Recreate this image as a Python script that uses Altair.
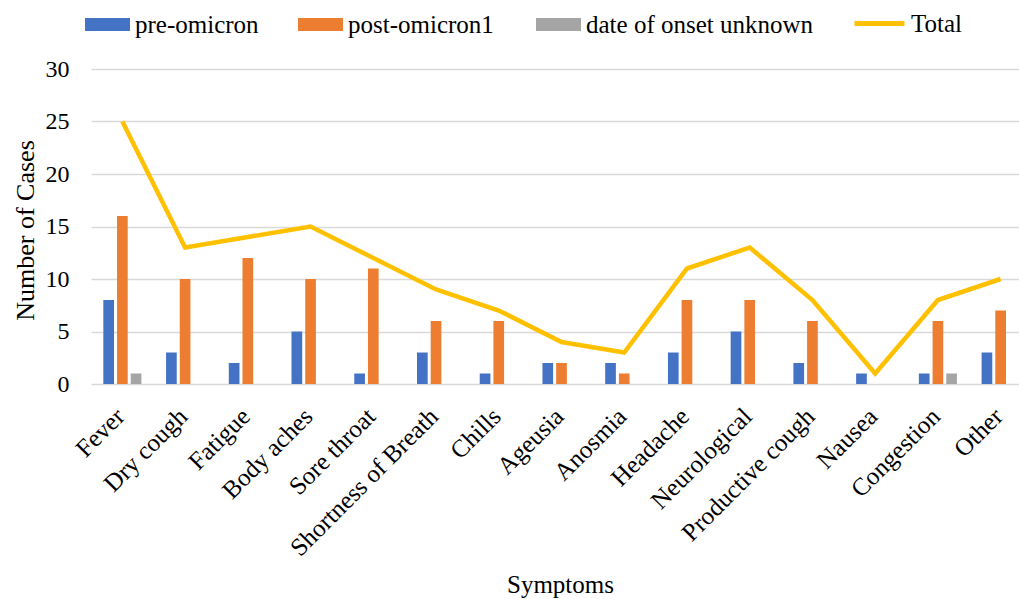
import altair as alt
import pandas as pd

# Symptom categories and case counts per period
symptoms = ["Fever", "Dry cough", "Fatigue", "Body aches", "Sore throat",
            "Shortness of Breath", "Chills", "Ageusia", "Anosmia", "Headache",
            "Neurological", "Productive cough", "Nausea", "Congestion", "Other"]
pre_omicron = [8, 3, 2, 5, 1, 3, 1, 2, 2, 3, 5, 2, 1, 1, 3]
post_omicron = [16, 10, 12, 10, 11, 6, 6, 2, 1, 8, 8, 6, 0, 6, 7]
onset_unknown = [1, 0, 0, 0, 0, 0, 0, 0, 0, 0, 0, 0, 0, 1, 0]
total = [25, 13, 14, 15, 12, 9, 7, 4, 3, 11, 13, 8, 1, 8, 10]

series_names = ["pre-omicron", "post-omicron1", "date of onset unknown"]
series_values = [pre_omicron, post_omicron, onset_unknown]
series_colors = ["#4472C4", "#ED7D31", "#A5A5A5"]
legend_x = [-6, 207, 445]

FONT = "Liberation Serif"
W, H = 928, 315

x_scale = alt.Scale(domain=symptoms, range=[0, 941], paddingInner=0, paddingOuter=0)
y_scale = alt.Scale(domain=[0, 30], nice=False)
offset_scale = alt.Scale(domain=series_names, paddingInner=0.22, paddingOuter=0.9)

x_axis = alt.Axis(title="Symptoms", labelAngle=-45, labelAlign="right",
                  labelBaseline="middle", labelPadding=28, labelOffset=-2,
                  labelFontSize=25, labelFont=FONT, labelColor="black",
                  labelLimit=0, ticks=False, domain=False, grid=False,
                  titleFont=FONT, titleFontSize=25, titleFontWeight="normal",
                  titleColor="black", titleX=469, titleY=208, titleAlign="center",
                  titleBaseline="alphabetic")
y_axis = alt.Axis(title="Number of Cases", values=[0, 5, 10, 15, 20, 25, 30],
                  labelFontSize=24, labelFont=FONT, labelColor="black",
                  labelPadding=22, ticks=False, domain=False, grid=True,
                  gridColor="#D9D9D9", gridWidth=1.3,
                  titleFont=FONT, titleFontSize=26, titleFontWeight="normal",
                  titleColor="black", titleAngle=-90, titleX=-58, titleY=161,
                  titleAlign="center", titleBaseline="alphabetic")


def series_bars(i):
    """One bar layer per series, each with its own one-entry legend."""
    df = pd.DataFrame({"Symptom": symptoms, "Cases": series_values[i],
                       "Series": series_names[i]})
    return alt.Chart(df).mark_bar().encode(
        x=alt.X("Symptom:N", scale=x_scale, sort=symptoms, axis=x_axis),
        xOffset=alt.XOffset("Series:N", scale=offset_scale),
        y=alt.Y("Cases:Q", scale=y_scale, axis=y_axis),
        fill=alt.Fill("Series:N",
                      scale=alt.Scale(domain=[series_names[i]],
                                      range=[series_colors[i]]),
                      legend=alt.Legend(title=None, orient="none",
                                        legendX=legend_x[i], legendY=-67,
                                        symbolType="M-1,-0.29H1V0.29H-1Z",
                                        symbolSize=2025, symbolStrokeWidth=0,
                                        labelFont=FONT, labelFontSize=25,
                                        labelColor="black", labelBaseline="middle",
                                        labelLimit=0, labelOffset=5, padding=0)),
    )


total_df = pd.DataFrame({"Symptom": symptoms, "Cases": total, "Series": "Total"})
line = alt.Chart(total_df).mark_line(strokeWidth=4.5).encode(
    x=alt.X("Symptom:N", scale=x_scale, sort=symptoms, axis=x_axis),
    y=alt.Y("Cases:Q", scale=y_scale, axis=y_axis),
    stroke=alt.Stroke("Series:N",
                      scale=alt.Scale(domain=["Total"], range=["#FFC000"]),
                      legend=alt.Legend(title=None, orient="none", legendX=761,
                                        legendY=-73, symbolType="stroke",
                                        symbolSize=2500, symbolStrokeWidth=5,
                                        labelFont=FONT, labelFontSize=25,
                                        labelColor="black", labelBaseline="middle",
                                        labelLimit=0, labelOffset=4, padding=0)),
)

chart = (
    alt.layer(series_bars(0), series_bars(1), series_bars(2), line)
    .resolve_scale(fill="independent")
    .properties(
        width=W, height=H,
        autosize=alt.AutoSizeParams(type="none"),
        padding={"left": 91, "top": 69, "right": 0, "bottom": 599 - 69 - H},
    )
    .configure(font=FONT)
    .configure_view(stroke=None)
)

chart.save("out.html", embed_options={"renderer": "svg", "actions": False})
